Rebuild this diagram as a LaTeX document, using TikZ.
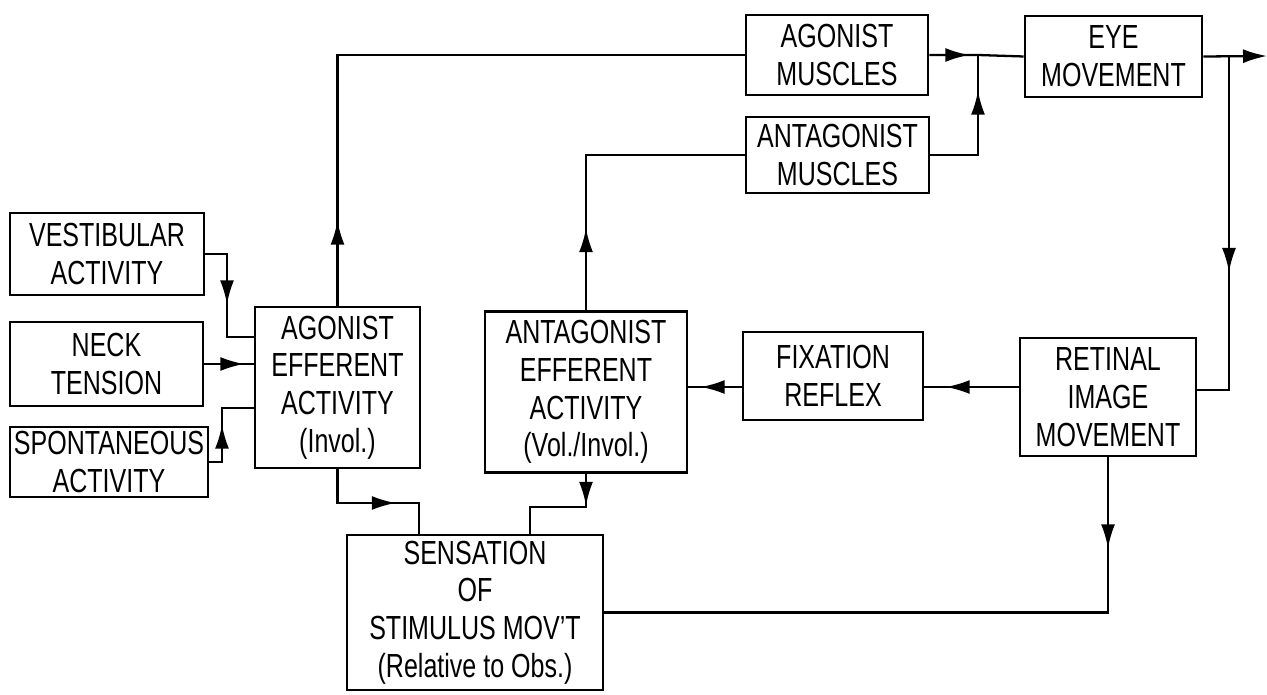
\documentclass[tikz,border=0pt]{standalone}
\usepackage{fontspec}
\setmainfont{Liberation Sans}[FakeStretch=0.75]
\usetikzlibrary{arrows.meta,calc,decorations.markings}
\tikzset{
  blockbox/.style={draw, line width=1.5pt, align=center, inner sep=0pt,
    font=\fontsize{19}{21.5}\selectfont},
  flowline/.style={line width=1.3pt},
  arrowat/.style={postaction={decorate}, decoration={markings,
    mark=at position #1 with {\arrow{Latex[length=0.48cm,width=0.28cm]}}}},
  outarrow/.style={-{Latex[length=0.48cm,width=0.28cm]}}
}

\begin{document}
\begin{tikzpicture}[x=0.02cm,y=-0.02cm]
  \useasboundingbox (0,0) rectangle (1267,695);

  % inputs on the left
  \node[blockbox, minimum width=3.88cm, minimum height=1.64cm] (vest)
    at (107,254) {VESTIBULAR\\ACTIVITY};
  \node[blockbox, minimum width=3.86cm, minimum height=1.68cm] (neck)
    at (106.5,364) {NECK\\TENSION};
  \node[blockbox, minimum width=3.96cm, minimum height=1.4cm] (spont)
    at (109,462) {SPONTANEOUS\\ACTIVITY};

  % efferent activity
  \node[blockbox, minimum width=3.3cm, minimum height=3.22cm] (agoeff)
    at (337.5,387.5) {AGONIST\\EFFERENT\\ACTIVITY\\(Invol.)};
  \node[blockbox, minimum width=4.04cm, minimum height=3.22cm] (antaeff)
    at (586,392) {ANTAGONIST\\EFFERENT\\ACTIVITY\\(Vol./Invol.)};
  \node[blockbox, minimum width=5.12cm, minimum height=3.1cm] (sens)
    at (475,612.5) {SENSATION\\OF\\STIMULUS MOV'T\\(Relative to Obs.)};

  % muscles and eye
  \node[blockbox, minimum width=3.64cm, minimum height=1.6cm] (agomus)
    at (837,55) {AGONIST\\MUSCLES};
  \node[blockbox, minimum width=3.66cm, minimum height=1.52cm] (antamus)
    at (837.5,155) {ANTAGONIST\\MUSCLES};
  \node[blockbox, minimum width=3.54cm, minimum height=1.62cm] (eye)
    at (1113.5,56.5) {EYE\\MOVEMENT};

  % feedback side
  \node[blockbox, minimum width=3.52cm, minimum height=2.36cm] (ret)
    at (1108,397) {RETINAL\\IMAGE\\MOVEMENT};
  \node[blockbox, minimum width=3.6cm, minimum height=1.76cm] (fix)
    at (833,376) {FIXATION\\REFLEX};

  \coordinate (vbend) at (227,337);
  \coordinate (sbend) at (222,408);
  \coordinate (jn) at (978,55);
  \coordinate (eyeout) at (1267,56);
  \coordinate (eyebr) at (1229,56);
  \coordinate (fixlvl) at (0,387);
  \coordinate (retlvl) at (0,390);
  \coordinate (agoknee) at (419,503);
  \coordinate (antaknee) at (530,507);

  \draw[flowline, arrowat=1.44cm] (vest.east) -| (vbend) -- (vbend -| agoeff.west);
  \draw[flowline, arrowat=0.8cm] (neck.east) -- (neck.east -| agoeff.west);
  \draw[flowline, arrowat=1.0cm] (spont.east) -| (sbend) -- (sbend -| agoeff.west);
  \draw[flowline, arrowat=1.7cm] (agoeff.north) |- (agomus.west);
  \draw[flowline, arrowat=0.8cm] (agomus.east) -- (jn) -- (eye.west);
  \draw[flowline, arrowat=2.24cm] (antamus.east) -| (jn);
  \draw[flowline, outarrow] (eye.east) -- (eyeout);
  \draw[flowline, arrowat=4.32cm] (eyebr) |- (ret.east |- retlvl);
  \draw[flowline, arrowat=1.46cm] (ret.west |- fixlvl) -- (fix.east |- fixlvl);
  \draw[flowline, arrowat=0.82cm] (fix.west |- fixlvl) -- (antaeff.east |- fixlvl);
  \draw[flowline, arrowat=1.64cm] (antaeff.north) |- (antamus.west);
  \draw[flowline, arrowat=1.84cm] (agoeff.south) |- (agoknee) -- (agoknee |- sens.north);
  \draw[flowline, arrowat=0.64cm] (antaeff.south) |- (antaknee) -- (antaknee |- sens.north);
  \draw[flowline, arrowat=1.82cm] (ret.south) |- (sens.east);
\end{tikzpicture}
\end{document}
